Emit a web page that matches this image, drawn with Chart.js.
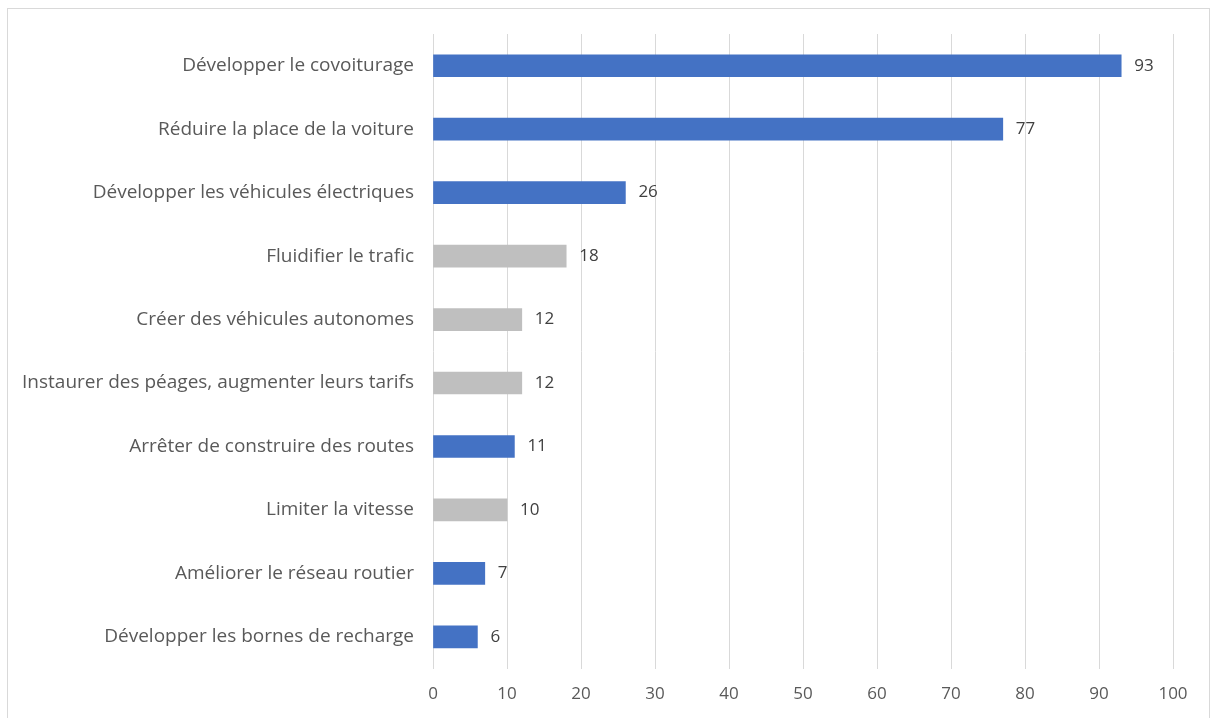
<!DOCTYPE html>
<html>
<head>
<meta charset="utf-8">
<script src="https://cdn.jsdelivr.net/npm/chart.js@4/dist/chart.umd.min.js"></script>
<style>
  body { margin: 0; background: #fff; }
  #wrap { position: absolute; left: 7px; top: 8px; width: 1203px; height: 712px; border: 1px solid #d9d9d9; box-sizing: border-box; }
</style>
</head>
<body>
<div id="wrap"><canvas id="chartdiv"></canvas></div>
<script>
var categories = [
  "Développer le covoiturage",
  "Réduire la place de la voiture",
  "Développer les véhicules électriques",
  "Fluidifier le trafic",
  "Créer des véhicules autonomes",
  "Instaurer des péages, augmenter leurs tarifs",
  "Arrêter de construire des routes",
  "Limiter la vitesse",
  "Améliorer le réseau routier",
  "Développer les bornes de recharge"
];
var votes = [93, 77, 26, 18, 12, 12, 11, 10, 7, 6];
var barColors = ["#4472C4", "#4472C4", "#4472C4", "#BFBFBF", "#BFBFBF",
                 "#BFBFBF", "#4472C4", "#BFBFBF", "#4472C4", "#4472C4"];
var xTicks = [0, 10, 20, 30, 40, 50, 60, 70, 80, 90, 100];

// draw the value next to each bar
var valueLabels = {
  id: "valueLabels",
  afterDatasetsDraw: function(chart) {
    var ctx = chart.ctx;
    var meta = chart.getDatasetMeta(0);
    ctx.save();
    ctx.font = "17px 'Open Sans'";
    ctx.fillStyle = "#404040";
    ctx.textAlign = "left";
    ctx.textBaseline = "middle";
    meta.data.forEach(function(bar, i) {
      ctx.fillText(votes[i], bar.x + 13, bar.y);
    });
    ctx.restore();
  }
};

var chart = new Chart(document.getElementById("chartdiv"), {
  type: "bar",
  data: {
    labels: categories,
    datasets: [{
      data: votes,
      backgroundColor: barColors,
      barThickness: 22
    }]
  },
  plugins: [valueLabels],
  options: {
    indexAxis: "y",
    responsive: true,
    maintainAspectRatio: false,
    animation: false,
    layout: { padding: { top: 25, right: 36, bottom: 0, left: 0 } },
    plugins: { legend: { display: false }, tooltip: { enabled: false } },
    scales: {
      x: {
        min: 0,
        max: 100,
        afterBuildTicks: function(scale) {
          scale.ticks = xTicks.map(function(v) { return { value: v }; });
        },
        grid: { color: "#d9d9d9", drawTicks: false },
        border: { display: false },
        ticks: { color: "#595959", padding: 15, font: { family: "'Open Sans'", size: 17 } }
      },
      y: {
        grid: { display: false, drawTicks: false },
        border: { display: false },
        afterFit: function(scale) {
          scale.width = 425;
          scale.paddingTop = 0;
          scale.paddingBottom = 0;
        },
        ticks: { color: "#595959", padding: 19, font: { family: "'Open Sans'", size: 19 } }
      }
    }
  }
});
</script>
</body>
</html>
